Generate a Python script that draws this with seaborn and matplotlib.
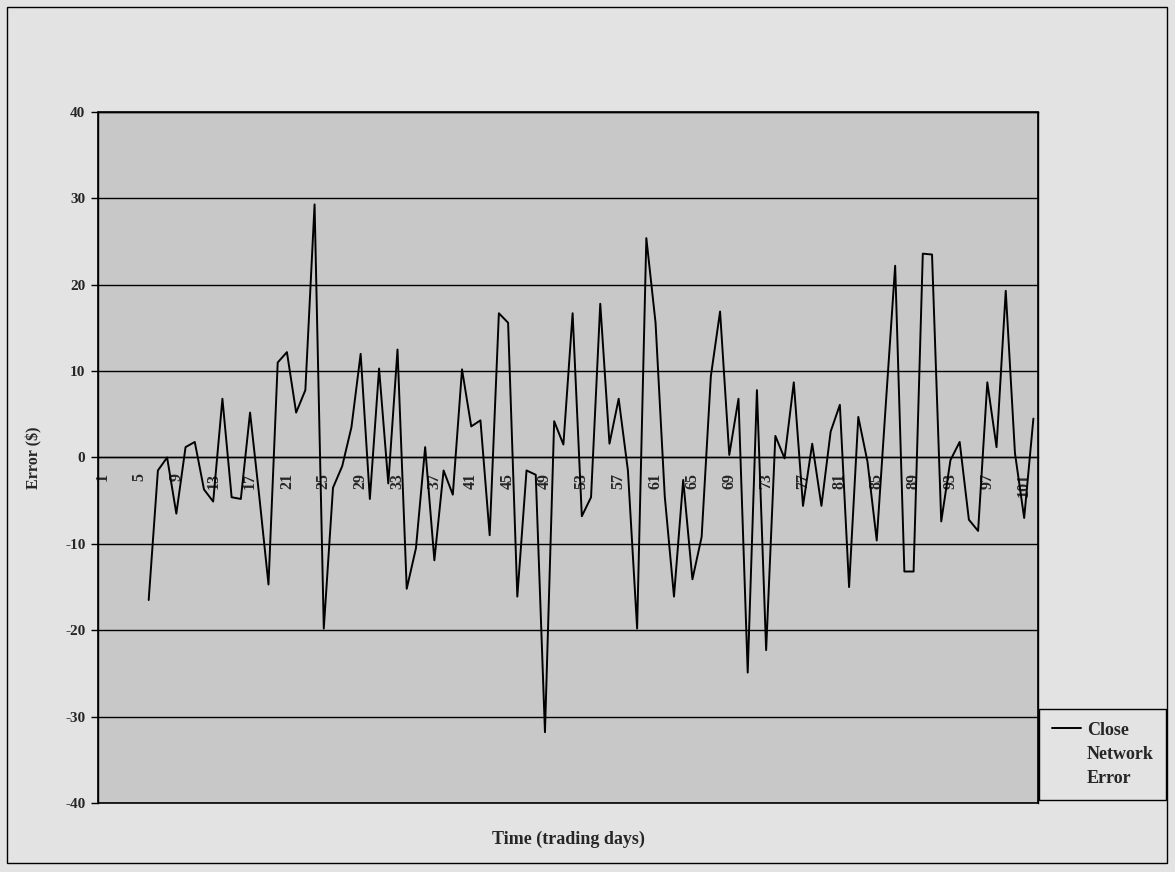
import numpy as np
import pandas as pd
import matplotlib
matplotlib.use("Agg")
import matplotlib.pyplot as plt
import seaborn as sns
from matplotlib.lines import Line2D
from matplotlib.patches import Rectangle

# ---- data ----
days = list(range(6, 103))
errors = [
    -16.5, -1.5, 0.0, -6.5, 1.2, 1.8, -3.7, -5.1, 6.8, -4.6,      # 6-15
    -4.8, 5.2, -4.5, -14.7, 11.0, 12.2, 5.2, 7.8, 29.3, -19.8,    # 16-25
    -3.5, -1.0, 3.5, 12.0, -4.8, 10.3, -3.0, 12.5, -15.2, -10.5,  # 26-35
    1.2, -11.9, -1.5, -4.3, 10.2, 3.6, 4.3, -9.0, 16.7, 15.6,     # 36-45
    -16.1, -1.5, -2.0, -31.8, 4.2, 1.5, 16.7, -6.8, -4.6, 17.8,   # 46-55
    1.6, 6.8, -1.5, -19.8, 25.4, 15.6, -4.5, -16.1, -2.6, -14.1,  # 56-65
    -9.2, 9.4, 16.9, 0.3, 6.8, -24.9, 7.8, -22.3, 2.5, -0.1,      # 66-75
    8.7, -5.6, 1.6, -5.6, 3.0, 6.1, -15.0, 4.7, -0.5, -9.6,       # 76-85
    6.4, 22.2, -13.2, -13.2, 23.6, 23.5, -7.4, -0.3, 1.8, -7.2,   # 86-95
    -8.5, 8.7, 1.2, 19.3, 0.5, -7.0, 4.5,                         # 96-102
]
tick_days = list(range(1, 102, 4))
tick_labels = [str(d) for d in tick_days]
y_ticks = [-40, -30, -20, -10, 0, 10, 20, 30, 40]
series_name = "Close"
legend_extra = ["Network", "Error"]
x_title = "Time (trading days)"
y_title = "Error ($)"

sns.set_style("white")
plt.rcParams["font.family"] = ["Liberation Serif", "DejaVu Serif"]
plt.rcParams["font.weight"] = "bold"

W, H = 1175, 872
L, R, T, B = 98, 1038, 112, 803
BG = "#e3e3e3"
PLOT_BG = "#c8c8c8"

fig = plt.figure(figsize=(W / 100, H / 100), dpi=100)
fig.patch.set_facecolor(BG)
ax = fig.add_axes([L / W, 1 - B / H, (R - L) / W, (B - T) / H])
ax.set_facecolor(PLOT_BG)

df = pd.DataFrame({"day": days, "error": errors})
sns.lineplot(data=df, x="day", y="error", ax=ax, color="black", lw=1.4,
             label=series_name, zorder=5)

ax.set_xlim(0.5, 102.5)
ax.set_ylim(-40, 40)
ax.set_yticks(y_ticks)
ax.set_yticklabels([str(v) for v in y_ticks], fontsize=11, fontweight="bold")
ax.yaxis.grid(True, color="black", lw=1.0)
ax.xaxis.grid(False)
ax.set_axisbelow(True)

for s in ["top", "right", "left"]:
    ax.spines[s].set_visible(True)
    ax.spines[s].set_color("black")
    ax.spines[s].set_linewidth(1.0)
ax.spines["bottom"].set_position(("data", 0))
ax.spines["bottom"].set_color("black")
ax.spines["bottom"].set_linewidth(1.0)
ax.add_patch(Rectangle((0, 0), 1, 1, transform=ax.transAxes, fill=False,
                       ec="black", lw=1.2, clip_on=False, zorder=6))

ax.set_xticks(tick_days)
ax.set_xticklabels(tick_labels, rotation=90, fontsize=11.5, fontweight="bold")
ax.set_xticks(np.arange(0.5, 103, 1), minor=True)
ax.tick_params(axis="x", which="major", length=0, pad=11)
ax.tick_params(axis="x", which="minor", length=4, width=1, direction="out",
               color="black")
ax.tick_params(axis="y", which="major", length=5, width=1, direction="out",
               color="black", pad=4, left=True)

ax.set_xlabel(x_title, fontsize=13, fontweight="bold")
ax.xaxis.set_label_coords(0.5, (B - 831) / (B - T))
ax.set_ylabel(y_title, fontsize=11.5, fontweight="bold")
ax.yaxis.set_label_coords((42 - L) / (R - L), 0.5)

line = ax.get_lines()[0]
handles = [line] + [Line2D([], [], color="none") for _ in legend_extra]
labels = [series_name] + legend_extra
leg = ax.legend(handles, labels, loc="upper left",
                bbox_to_anchor=(1039 / W, 1 - 709 / H),
                bbox_transform=fig.transFigure, frameon=True, fancybox=False,
                edgecolor="black", facecolor=BG, framealpha=1,
                prop={"size": 13, "weight": "bold"}, handlelength=1.65,
                handletextpad=0.3, labelspacing=0.4, borderpad=0.7,
                borderaxespad=0)
leg.get_frame().set_linewidth(1.0)

fig.patches.append(Rectangle((7 / W, 1 - 863 / H), (1167 - 7) / W,
                             (863 - 7) / H, transform=fig.transFigure,
                             fill=False, ec="black", lw=1.0))

fig.savefig("out.png", dpi=100, facecolor=BG)
